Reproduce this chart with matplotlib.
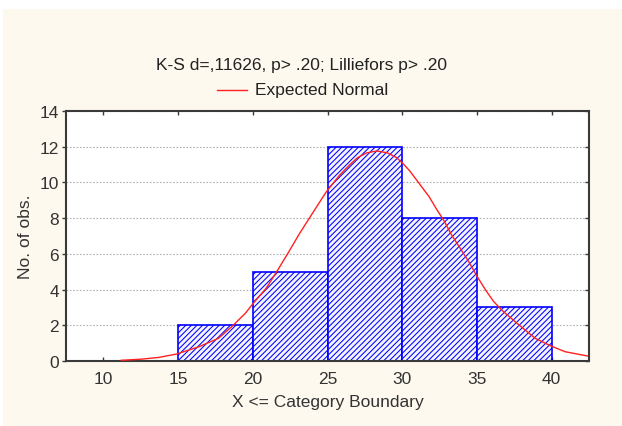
import matplotlib
matplotlib.use("Agg")
import matplotlib.pyplot as plt
from matplotlib.patches import Rectangle
from matplotlib.lines import Line2D

plt.rcParams['font.family'] = ['Liberation Sans', 'DejaVu Sans']
plt.rcParams['hatch.linewidth'] = 0.75
plt.rcParams['hatch.color'] = '#3838ff'

# histogram bins (upper boundaries) and counts
bin_edges = [15, 20, 25, 30, 35, 40]
counts = [2, 5, 12, 8, 3]

# expected normal curve
curve_x = [11.2, 12.5, 13.7, 14.9, 16.4, 17.7, 18.6, 19.5, 20.0, 20.9, 21.6, 22.4,
           23.1, 23.8, 24.9, 25.8, 26.5, 27.0, 27.6, 28.3, 29.0, 29.6, 30.0, 30.5,
           31.1, 31.8, 32.3, 32.8, 33.3, 33.8, 34.5, 35.0, 35.6, 36.1, 36.7, 37.7,
           38.9, 39.9, 40.9, 42.4]
curve_y = [0.04, 0.1, 0.2, 0.39, 0.8, 1.27, 1.93, 2.67, 3.2, 4.08, 5.0, 6.1,
           7.1, 8.02, 9.45, 10.4, 11.0, 11.38, 11.65, 11.76, 11.66, 11.4, 11.1, 10.65,
           9.98, 9.2, 8.5, 7.85, 7.06, 6.42, 5.49, 4.75, 3.95, 3.35, 2.82, 2.1,
           1.27, 0.86, 0.52, 0.28]

x_ticks = [10, 15, 20, 25, 30, 35, 40]
y_ticks = [0, 2, 4, 6, 8, 10, 12, 14]

title = "K-S d=,11626, p> .20; Lilliefors p> .20"
legend_label = "Expected Normal"

FS = 12.5

fig = plt.figure(figsize=(6.22, 4.27), dpi=100, facecolor='white')
# cream panel behind the chart
fig.patches.append(Rectangle((3 / 622, 0), 1, 1 - 10 / 427, transform=fig.transFigure,
                             facecolor='#fdf9ee', edgecolor='none', zorder=0))

ax = fig.add_axes([66 / 622, 1 - 362 / 427, (589 - 66) / 622, (362 - 112) / 427])
ax.set_zorder(2)
ax.set_facecolor('white')

widths = [bin_edges[i + 1] - bin_edges[i] for i in range(len(counts))]
ax.bar(bin_edges[:-1], counts, width=widths, align='edge', facecolor='#f4f4ff',
       edgecolor='#0000ff', linewidth=1.2, hatch='//////', zorder=2)

ax.plot(curve_x, curve_y, color='#ff2020', linewidth=1.0, zorder=3)

ax.set_xlim(7.5, 42.5)
ax.set_ylim(0, 14)
ax.set_xticks(x_ticks)
ax.set_yticks(y_ticks)
ax.grid(axis='y', color='#b0b0b0', linestyle=(0, (1.5, 1.5)), linewidth=0.8, zorder=1)
ax.set_axisbelow(True)

for s in ax.spines.values():
    s.set_color('#3a3a3a')
    s.set_linewidth(1.5)

ax.tick_params(axis='x', direction='in', length=3, width=1, color='#3a3a3a',
               labelsize=FS, labelcolor='#333333', pad=7, top=True)
ax.tick_params(axis='y', direction='out', length=3, width=1, color='#3a3a3a',
               labelsize=FS, labelcolor='#333333', pad=2)
ax.tick_params(axis='y', which='both', right=True)
# inward ticks on the right
for t in ax.yaxis.get_major_ticks():
    t.tick2line.set_marker(matplotlib.markers.TICKLEFT)

ax.set_xlabel("X <= Category Boundary", fontsize=FS, color='#333333', labelpad=6)
ax.set_ylabel("No. of obs.", fontsize=FS, color='#333333', labelpad=5)

fig.text(302 / 622, 1 - 66 / 427, title, ha='center', va='center', fontsize=FS, color='#222222')
fig.add_artist(Line2D([217 / 622, 247 / 622], [1 - 91 / 427, 1 - 91 / 427],
                      color='#ff2020', linewidth=1.0, transform=fig.transFigure))
fig.text(255 / 622, 1 - 90 / 427, legend_label, ha='left', va='center', fontsize=FS,
         color='#222222')

fig.savefig("out.png", dpi=100, facecolor=fig.get_facecolor())
